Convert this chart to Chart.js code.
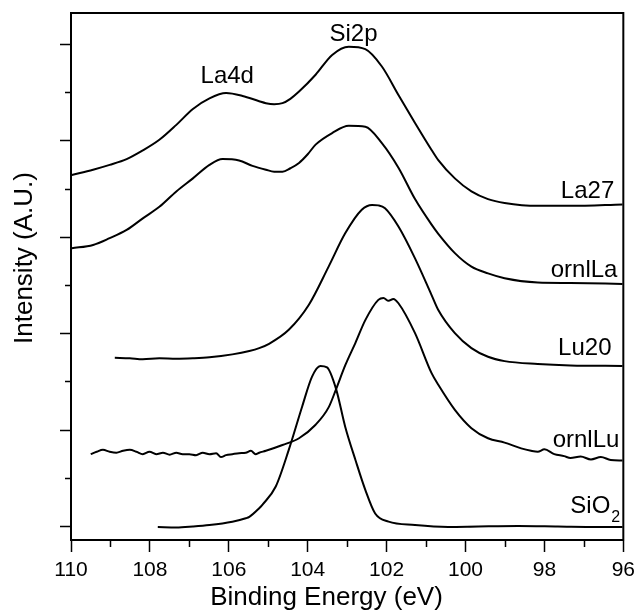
<!DOCTYPE html>
<html>
<head>
<meta charset="utf-8">
<script src="https://cdn.jsdelivr.net/npm/chart.js@4.4.1/dist/chart.umd.min.js"></script>
<style>
  html, body { margin: 0; padding: 0; background: #fff; }
  #wrap { width: 641px; height: 610px; }
</style>
</head>
<body>
<div id="wrap"><canvas id="xps"></canvas></div>
<script>
// binding energy (eV) and intensity (offset, A.U.)
const la27E = [109.98,109.44,109.02,108.59,108.18,107.76,107.33,106.91,106.49,106.07,105.65,105.23,105.06,104.85,104.64,104.44,104.22,103.80,103.38,102.96,102.54,102.12,101.70,101.28,100.86,100.69,100.27,99.85,99.43,99.01,98.17,97.34,96.02];
const la27I = [7.28,7.39,7.49,7.61,7.79,8.01,8.32,8.65,8.87,8.98,8.92,8.81,8.77,8.75,8.77,8.86,9.01,9.36,9.77,9.94,9.89,9.53,8.94,8.36,7.80,7.59,7.21,6.94,6.78,6.70,6.64,6.64,6.67];

const ornlLaE = [109.98,109.44,109.02,108.59,108.18,107.76,107.33,106.91,106.49,106.16,105.74,105.40,105.06,104.85,104.64,104.44,104.22,104.00,103.80,103.38,102.96,102.54,102.12,101.70,101.28,100.86,100.69,100.27,99.85,99.43,99.01,98.17,97.34,96.02];
const ornlLaI = [5.76,5.83,5.97,6.14,6.38,6.62,6.94,7.21,7.49,7.61,7.58,7.47,7.39,7.35,7.35,7.42,7.53,7.71,7.91,8.15,8.30,8.28,7.94,7.43,6.78,6.25,6.06,5.66,5.38,5.24,5.14,5.05,5.04,5.02];

const lu20E = [108.89,108.51,108.18,107.76,107.33,106.91,106.49,105.91,105.48,105.23,104.98,104.48,103.97,103.47,103.05,102.63,102.37,102.21,102.04,101.70,101.28,100.86,100.69,100.27,99.85,99.43,99.01,98.17,97.34,96.02];
const lu20I = [3.49,3.48,3.46,3.48,3.47,3.48,3.50,3.56,3.63,3.69,3.78,4.07,4.59,5.38,6.07,6.56,6.66,6.65,6.59,6.21,5.55,4.79,4.48,4.00,3.69,3.51,3.42,3.36,3.33,3.32];

const ornlLuE = [109.50,109.35,109.19,109.02,108.85,108.68,108.51,108.34,108.18,108.01,107.84,107.67,107.50,107.33,107.17,107.00,106.83,106.66,106.49,106.32,106.20,106.07,105.91,105.74,105.57,105.44,105.32,105.23,105.06,104.64,104.22,103.80,103.47,103.28,103.05,102.79,102.54,102.21,102.08,101.95,101.83,101.70,101.28,100.86,100.69,100.27,99.85,99.43,99.01,98.59,98.34,98.17,98.00,97.75,97.50,97.34,97.08,96.82,96.57,96.32,96.02];
const ornlLuI = [1.49,1.54,1.58,1.54,1.52,1.56,1.58,1.54,1.49,1.54,1.49,1.52,1.48,1.52,1.49,1.49,1.47,1.52,1.49,1.51,1.43,1.47,1.49,1.51,1.52,1.56,1.49,1.52,1.56,1.68,1.82,2.10,2.46,2.84,3.33,3.80,4.27,4.69,4.73,4.67,4.71,4.62,4.00,3.17,2.93,2.41,2.03,1.82,1.73,1.61,1.56,1.54,1.59,1.49,1.45,1.41,1.44,1.38,1.43,1.37,1.36];

const sio2E = [107.80,107.33,106.91,106.49,105.91,105.57,105.48,105.23,105.15,104.81,104.48,104.14,103.89,103.68,103.51,103.28,103.05,102.79,102.54,102.29,101.95,101.28,100.44,99.68,98.67,97.66,96.66,96.02];
const sio2I = [-0.02,-0.03,-0.01,0.02,0.09,0.16,0.19,0.37,0.44,0.82,1.58,2.48,3.10,3.32,3.29,2.84,2.06,1.37,0.75,0.26,0.09,0.02,-0.02,-0.01,0.00,-0.01,-0.02,-0.02];

const xTickValues = [110, 108, 106, 104, 102, 100, 98, 96];
const yTickValues = [0, 1, 2, 3, 4, 5, 6, 7, 8, 9, 10];

// text labels, anchored in data units
const curveLabels = [
  { text: 'La4d',   e: 106.04, v: 9.19,  align: 'center' },
  { text: 'Si2p',   e: 102.84, v: 10.06, align: 'center' },
  { text: 'La27',   e: 96.23,  v: 6.80,  align: 'right' },
  { text: 'ornlLa', e: 96.15,  v: 5.17,  align: 'right' },
  { text: 'Lu20',   e: 96.30,  v: 3.55,  align: 'right' },
  { text: 'ornlLu', e: 96.10,  v: 1.64,  align: 'right' }
];

const FONT = '"Liberation Sans", Arial, Helvetica, sans-serif';

function toPoints(es, is) {
  return es.map((e, i) => ({ x: e, y: is[i] }));
}

function line(label, es, is) {
  return {
    label: label,
    data: toPoints(es, is),
    borderColor: '#000',
    borderWidth: 2,
    pointRadius: 0,
    cubicInterpolationMode: 'monotone',
    fill: false
  };
}

const decorations = {
  id: 'decorations',
  afterDraw(chart) {
    const { ctx, chartArea: a, scales: { x, y } } = chart;
    ctx.save();
    ctx.strokeStyle = '#000';
    ctx.lineWidth = 2;
    ctx.strokeRect(a.left, a.top, a.right - a.left, a.bottom - a.top);

    ctx.lineWidth = 1.5;
    ctx.beginPath();
    yTickValues.forEach(v => {
      const py = Math.round(y.getPixelForValue(v)) + 0.5;
      const len = v % 2 === 0 ? 11 : 6;
      ctx.moveTo(a.left - len, py);
      ctx.lineTo(a.left, py);
    });
    for (let e = 109; e > 96; e -= 2) {
      const px = Math.round(x.getPixelForValue(e)) + 0.5;
      ctx.moveTo(px, a.bottom);
      ctx.lineTo(px, a.bottom + 7);
    }
    ctx.stroke();

    ctx.fillStyle = '#000';
    ctx.textBaseline = 'alphabetic';
    ctx.font = '24px ' + FONT;
    curveLabels.forEach(l => {
      ctx.textAlign = l.align;
      ctx.fillText(l.text, x.getPixelForValue(l.e), y.getPixelForValue(l.v));
    });

    // SiO2 with subscript
    const sx = x.getPixelForValue(96.33);
    const sy = y.getPixelForValue(0.27);
    ctx.textAlign = 'right';
    ctx.fillText('SiO', sx, sy);
    ctx.font = '16px ' + FONT;
    ctx.textAlign = 'left';
    ctx.fillText('2', sx + 1, sy + 9);

    // axis titles
    ctx.font = '26px ' + FONT;
    ctx.textAlign = 'center';
    ctx.fillText('Binding Energy (eV)', 326.5, 605);
    ctx.translate(25, 258);
    ctx.rotate(-Math.PI / 2);
    ctx.textBaseline = 'middle';
    ctx.fillText('Intensity (A.U.)', 0, 0);
    ctx.restore();
  }
};

new Chart(document.getElementById('xps'), {
  type: 'line',
  data: {
    datasets: [
      line('La27', la27E, la27I),
      line('ornlLa', ornlLaE, ornlLaI),
      line('Lu20', lu20E, lu20I),
      line('ornlLu', ornlLuE, ornlLuI),
      line('SiO2', sio2E, sio2I)
    ]
  },
  options: {
    responsive: true,
    maintainAspectRatio: false,
    animation: false,
    layout: { padding: { left: 71, right: 15, top: 13, bottom: 0 } },
    plugins: { legend: { display: false }, tooltip: { enabled: false } },
    scales: {
      x: {
        type: 'linear',
        reverse: true,
        min: 96,
        max: 110,
        afterFit: s => { s.height = 70; },
        afterBuildTicks: s => { s.ticks = xTickValues.map(v => ({ value: v })); },
        ticks: { color: '#000', padding: 6, font: { size: 21, family: FONT }, maxRotation: 0 },
        grid: { drawOnChartArea: false, tickLength: 12, tickWidth: 1.5, tickColor: '#000' },
        border: { display: true, color: '#000', width: 2 }
      },
      y: {
        type: 'linear',
        display: false,
        min: -0.29,
        max: 10.64
      }
    }
  },
  plugins: [decorations]
});
</script>
</body>
</html>
